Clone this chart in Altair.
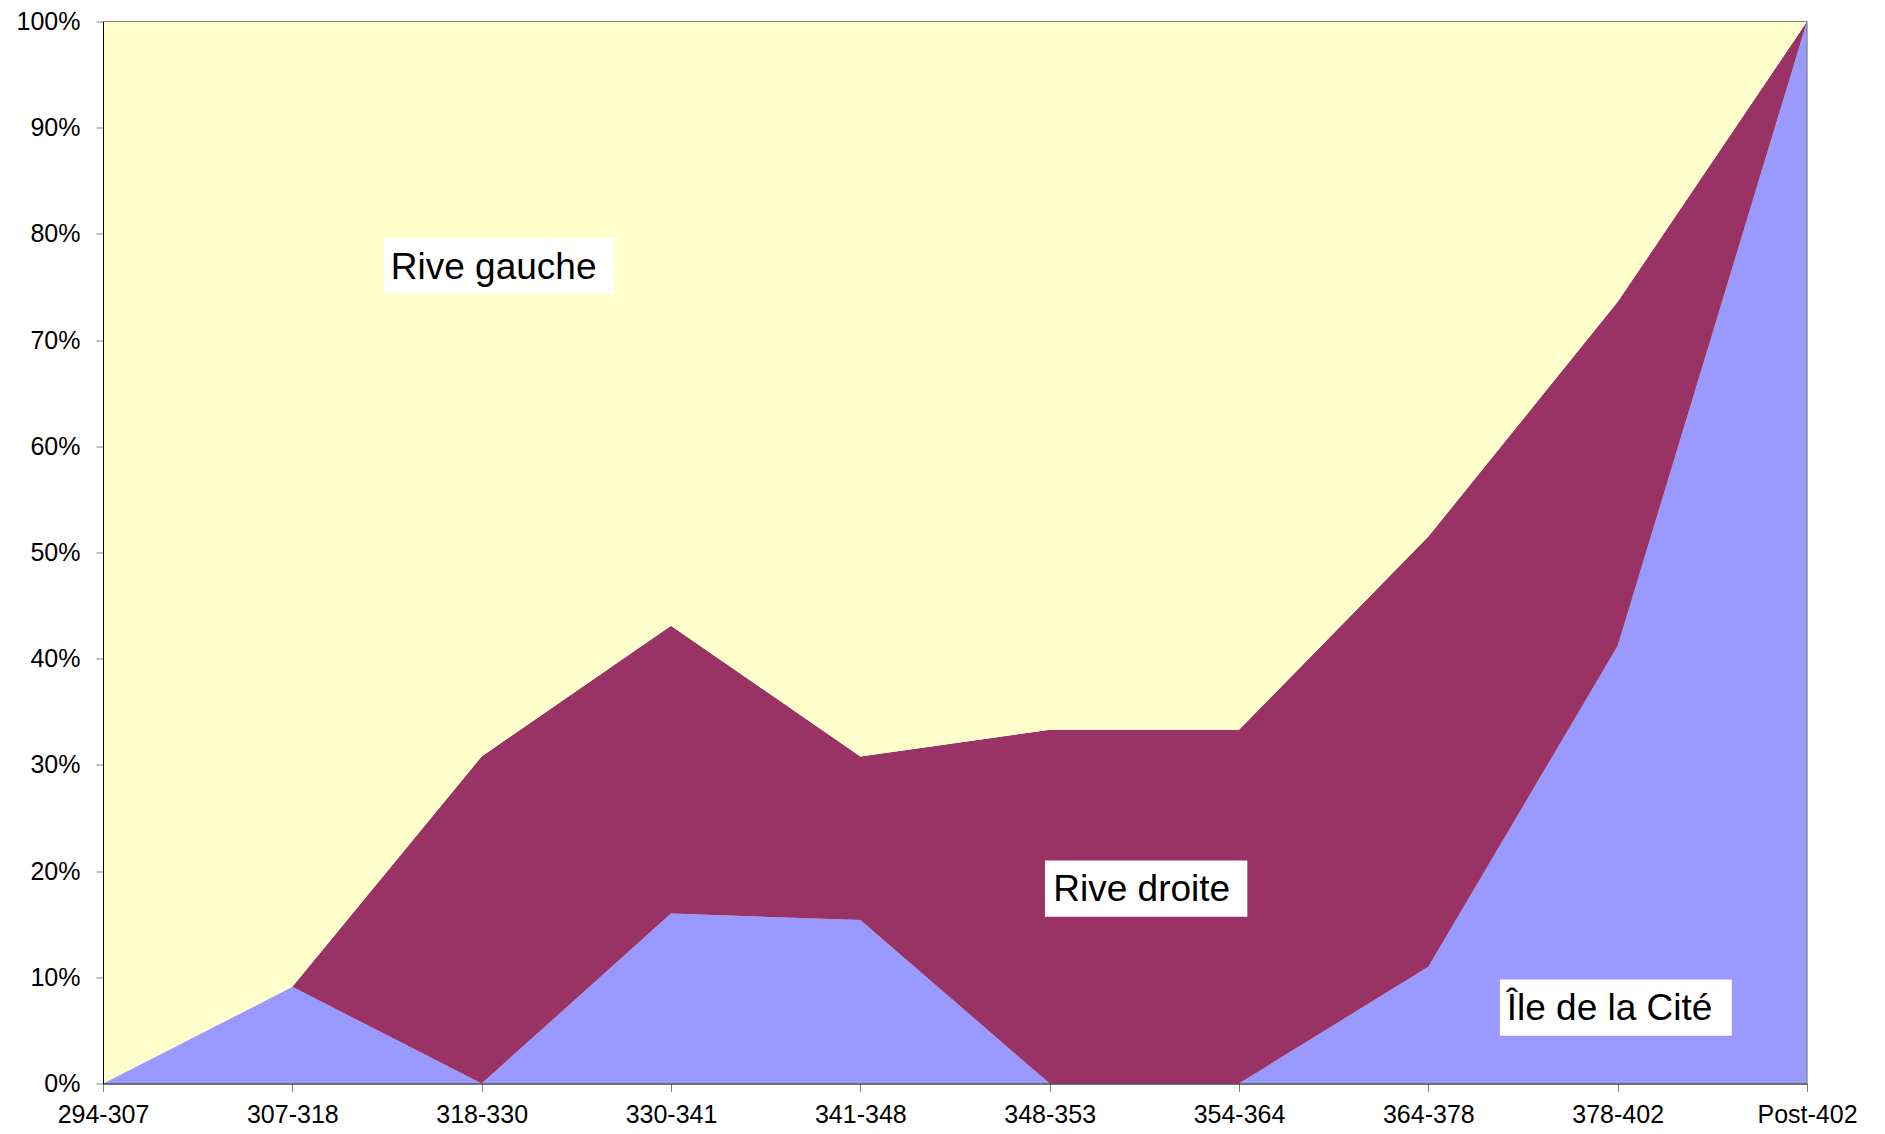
import altair as alt
import pandas as pd

categories = ["294-307", "307-318", "318-330", "330-341", "341-348",
              "348-353", "354-364", "364-378", "378-402", "Post-402"]
ile = [0, 9.1, 0, 16.0, 15.4, 0, 0, 11.0, 41.2, 100]
droite = [0, 0, 30.8, 27.1, 15.4, 33.3, 33.3, 40.5, 32.4, 0]
gauche = [100 - a - b for a, b in zip(ile, droite)]

series_names = ["Île de la Cité", "Rive droite", "Rive gauche"]
series_colors = ["#9999FF", "#993366", "#FFFFCC"]

# annotation labels: text, text x/baseline y (data units), box x/x2/y/y2
ann_text = ["Rive gauche", "Rive droite", "Île de la Cité"]
ann_tx = [1.520, 5.019, 7.414]
ann_ty = [75.8, 17.2, 6.0]
ann_bx = [1.484, 4.975, 7.378]
ann_bx2 = [2.699, 6.044, 8.603]
ann_by = [79.6, 21.0, 9.8]
ann_by2 = [74.4, 15.7, 4.5]

rows = []
for i, c in enumerate(categories):
    for k, (name, vals) in enumerate(zip(series_names, [ile, droite, gauche])):
        rows.append({"idx": i, "cat": c, "series": name, "order": k, "value": vals[i]})
df = pd.DataFrame(rows)

ann = pd.DataFrame({"text": ann_text, "tx": ann_tx, "ty": ann_ty,
                    "bx": ann_bx, "bx2": ann_bx2, "by": ann_by, "by2": ann_by2})

js_cats = "[" + ",".join("'" + c + "'" for c in categories) + "]"
n = len(categories) - 1

xscale = alt.Scale(domain=[0, n], nice=False, zero=False)
yscale = alt.Scale(domain=[0, 100], nice=False)

area = alt.Chart(df).mark_area(strokeWidth=0, interpolate="linear").encode(
    x=alt.X("idx:Q", scale=xscale,
            axis=alt.Axis(values=list(range(len(categories))),
                          labelExpr=js_cats + "[datum.value]",
                          title=None, grid=False, domainColor="#000000",
                          domainWidth=1, tickColor="#808080", tickSize=8,
                          labelFontSize=25, labelPadding=11, labelColor="#000000",
                          labelFont="Liberation Sans", zindex=1,
                          labelFlush=False, labelOverlap=False)),
    y=alt.Y("value:Q", stack="zero", scale=yscale,
            axis=alt.Axis(values=list(range(0, 101, 10)),
                          labelExpr="datum.value + '%'",
                          title=None, grid=False, domainColor="#000000",
                          domainWidth=1, tickColor="#808080", tickSize=7,
                          labelFontSize=25, labelPadding=16, labelColor="#000000",
                          labelFont="Liberation Sans", zindex=1)),
    color=alt.Color("series:N",
                    scale=alt.Scale(domain=series_names, range=series_colors),
                    legend=None),
    order=alt.Order("order:Q", sort="ascending"),
)

top_rule = alt.Chart(pd.DataFrame({"y": [100]})).mark_rule(
    color="#808080", strokeWidth=1).encode(y=alt.Y("y:Q", scale=yscale))
right_rule = alt.Chart(pd.DataFrame({"x": [n]})).mark_rule(
    color="#808080", strokeWidth=1).encode(x=alt.X("x:Q", scale=xscale))

boxes = alt.Chart(ann).mark_rect(color="#FFFFFF").encode(
    x=alt.X("bx:Q", scale=xscale), x2="bx2",
    y=alt.Y("by:Q", scale=yscale), y2="by2")

texts = alt.Chart(ann).mark_text(align="left", baseline="alphabetic",
                                 font="Liberation Sans", fontSize=37,
                                 color="#000000").encode(
    x=alt.X("tx:Q", scale=xscale), y=alt.Y("ty:Q", scale=yscale), text="text:N")

chart = alt.layer(area, top_rule, right_rule, boxes, texts).properties(
    width=1704, height=1062,
    autosize=alt.AutoSizeParams(type="none"),
    padding={"left": 95, "top": 13.5, "right": 60, "bottom": 46},
).configure_view(stroke=None).configure(background="#FFFFFF")

chart.save("out.html", embed_options={"renderer": "svg", "actions": False})
